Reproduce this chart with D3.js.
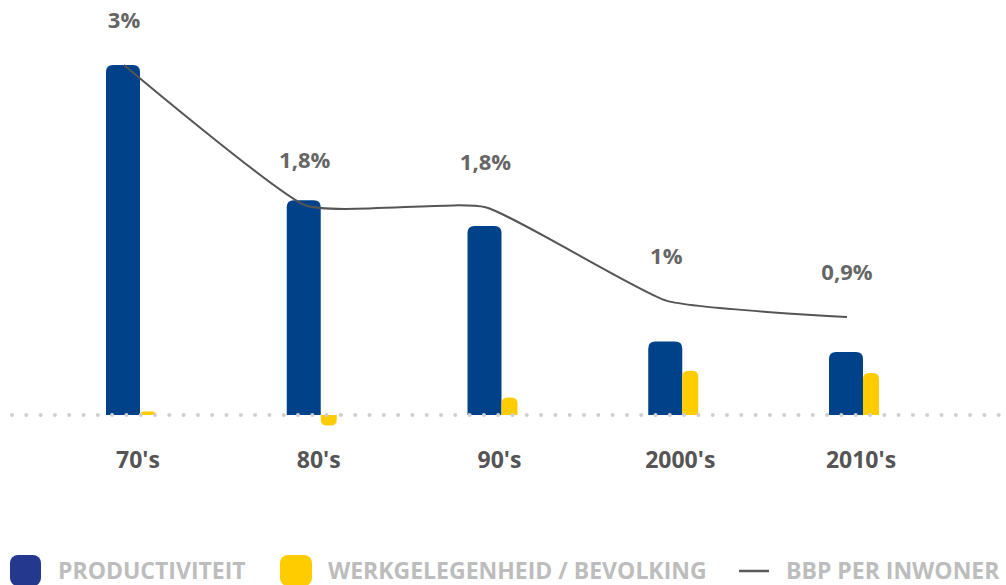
<!DOCTYPE html>
<html>
<head>
<meta charset="utf-8">
<script src="https://cdn.jsdelivr.net/npm/d3@7"></script>
<style>
  body { margin: 0; background: #fff; }
  svg { display: block; font-family: "Open Sans", sans-serif; }
</style>
</head>
<body>
<div id="chart"></div>
<script>
let decades = ["70's", "80's", "90's", "2000's", "2010's"]
let productiviteit = [3.0, 1.84, 1.62, 0.63, 0.54]
let werkgelegenheid = [0.03, -0.09, 0.15, 0.38, 0.36]
let bbpPerInwoner = [3.0, 1.8, 1.78, 0.98, 0.84]
let bbpLabels = ['3%', '1,8%', '1,8%', '1%', '0,9%']
let legendItems = ['PRODUCTIVITEIT', 'WERKGELEGENHEID / BEVOLKING', 'BBP PER INWONER']

let width = 1006, height = 585

let svg = d3.select('#chart').append('svg')
    .attr('width', width)
    .attr('height', height)

let x = d3.scaleBand()
    .domain(decades)
    .range([106, 879])
    .paddingInner(0.7234)
    .paddingOuter(0)

let y = d3.scaleLinear()
    .domain([0, 3])
    .range([415, 65])

let blueW = x.bandwidth() * 0.68
let yellowW = x.bandwidth() - blueW

// bar with rounded corners on the far side from zero
function barPath(x0, w, v, r) {
    let y0 = y(0), y1 = y(v)
    let h = Math.abs(y0 - y1)
    r = Math.min(r, h, w / 2)
    if (v >= 0) {
        return `M${x0},${y0} V${y1 + r} Q${x0},${y1} ${x0 + r},${y1} H${x0 + w - r} Q${x0 + w},${y1} ${x0 + w},${y1 + r} V${y0} Z`
    }
    return `M${x0},${y0} V${y1 - r} Q${x0},${y1} ${x0 + r},${y1} H${x0 + w - r} Q${x0 + w},${y1} ${x0 + w},${y1 - r} V${y0} Z`
}

svg.append('g').selectAll('path')
    .data(decades)
    .join('path')
    .attr('d', (d, i) => barPath(x(d), blueW, productiviteit[i], 7))
    .attr('fill', '#00428a')

svg.append('g').selectAll('path')
    .data(decades)
    .join('path')
    .attr('d', (d, i) => barPath(x(d) + blueW, yellowW, werkgelegenheid[i], 6))
    .attr('fill', '#ffcc00')

// dotted zero line
svg.append('line')
    .attr('x1', 12).attr('x2', width)
    .attr('y1', y(0)).attr('y2', y(0))
    .attr('stroke', '#cfcfcf')
    .attr('stroke-width', 4)
    .attr('stroke-linecap', 'round')
    .attr('stroke-dasharray', '0 14.3')

let lineX = d => x(d) + 18

let line = d3.line()
    .x((d, i) => lineX(decades[i]))
    .y(d => y(d))
    .curve(d3.curveCardinal.tension(0.55))

svg.append('path')
    .datum(bbpPerInwoner)
    .attr('d', line)
    .attr('fill', 'none')
    .attr('stroke', '#555')
    .attr('stroke-width', 2)

svg.append('g').selectAll('text')
    .data(decades)
    .join('text')
    .attr('x', d => lineX(d))
    .attr('y', (d, i) => y(bbpPerInwoner[i]) - 37)
    .attr('text-anchor', 'middle')
    .style('font-size', '22px')
    .style('font-weight', 'bold')
    .style('fill', '#666')
    .text((d, i) => bbpLabels[i])

// x axis labels
svg.append('g').selectAll('text')
    .data(decades)
    .join('text')
    .attr('x', d => x(d) + 32)
    .attr('y', 468)
    .attr('text-anchor', 'middle')
    .style('font-size', '23px')
    .style('font-weight', 'bold')
    .style('fill', '#555')
    .text(d => d)

// legend
let legend = svg.append('g')
legend.append('rect')
    .attr('x', 10).attr('y', 555).attr('width', 31).attr('height', 31).attr('rx', 8)
    .attr('fill', '#24388e')
legend.append('rect')
    .attr('x', 280).attr('y', 555).attr('width', 32).attr('height', 31).attr('rx', 8)
    .attr('fill', '#ffcc00')
legend.append('line')
    .attr('x1', 739).attr('x2', 769).attr('y1', 571).attr('y2', 571)
    .attr('stroke', '#5a5a5a').attr('stroke-width', 2.5)

let legendX = [58, 328, 786]
legend.selectAll('text.lbl')
    .data(legendItems)
    .join('text')
    .attr('class', 'lbl')
    .attr('x', (d, i) => legendX[i])
    .attr('y', 579)
    .style('font-size', '23px')
    .style('font-weight', 'bold')
    .style('fill', '#bdbdbd')
    .text(d => d)
</script>
</body>
</html>
